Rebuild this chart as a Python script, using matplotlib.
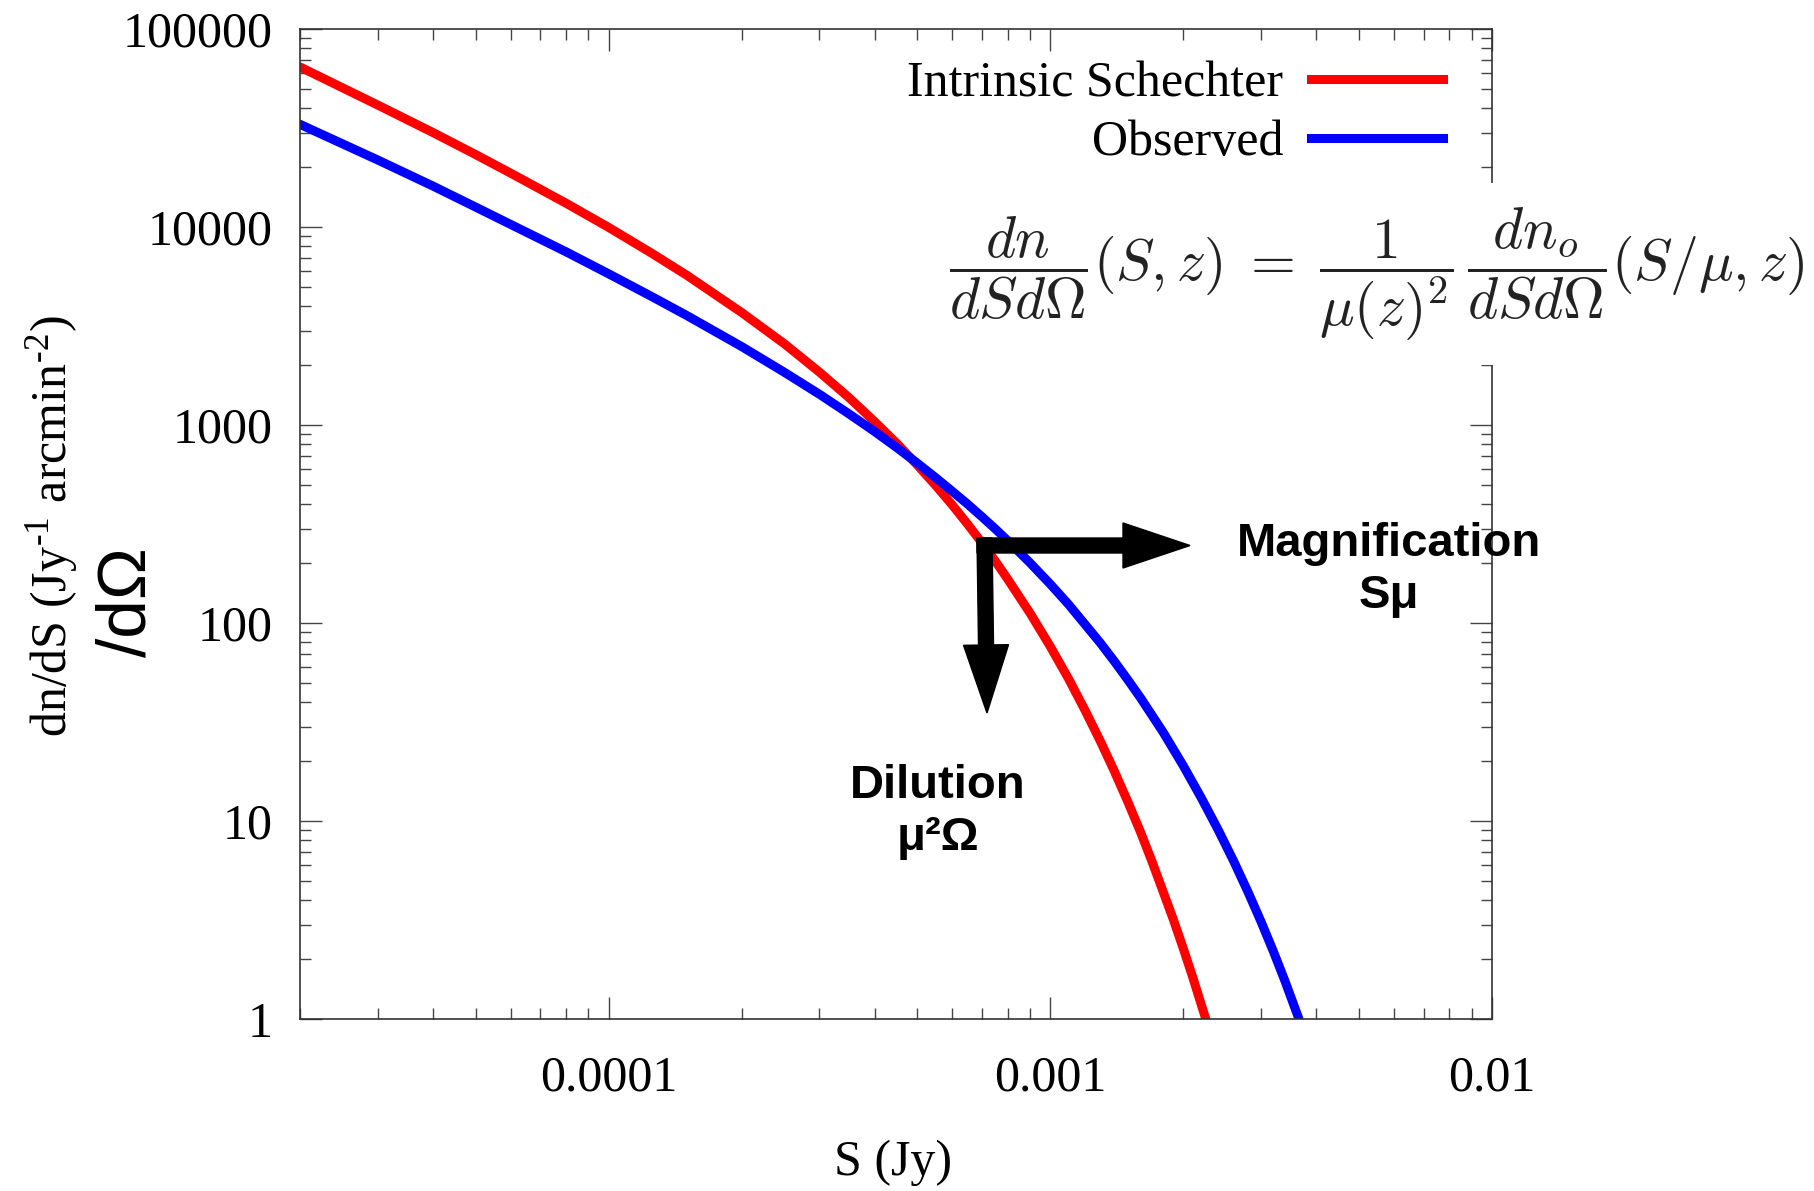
import matplotlib
matplotlib.use("Agg")
from matplotlib import pyplot as plt
from matplotlib.patches import FancyArrow
from matplotlib.ticker import FuncFormatter, LogLocator

plt.rcParams['font.family'] = ['Liberation Serif', 'DejaVu Serif']
plt.rcParams['mathtext.fontset'] = 'stix'

# flux density S (Jy) and dn/dS (Jy^-1 arcmin^-2)
s_intrinsic = [2e-5, 3e-5, 4e-5, 5e-5, 6e-5, 8e-5, 1e-4, 1.25e-4, 1.5e-4, 2e-4,
               2.5e-4, 3e-4, 3.5e-4, 4e-4, 4.5e-4, 5e-4, 5.5e-4, 6e-4, 6.5e-4,
               7e-4, 7.5e-4, 8e-4, 9e-4, 1e-3, 1.1e-3, 1.2e-3, 1.3e-3, 1.4e-3,
               1.5e-3, 1.6e-3, 1.7e-3, 1.8e-3, 1.9e-3, 2e-3, 2.1e-3, 2.3e-3]
n_intrinsic = [64300, 41300, 30000, 23200, 18700, 13200, 9950, 7380, 5720, 3700,
               2570, 1850, 1375, 1040, 804, 627, 495, 394, 315,
               254, 206, 167, 112, 76, 52.2, 36, 25.1, 17.6,
               12.4, 8.8, 6.22, 4.4, 3.17, 2.27, 1.63, 0.85]

s_observed = [2e-5, 3e-5, 4e-5, 5e-5, 6e-5, 8e-5, 1e-4, 1.25e-4, 1.5e-4, 2e-4,
              2.5e-4, 3e-4, 3.5e-4, 4e-4, 4.5e-4, 5e-4, 5.5e-4, 6e-4, 6.5e-4,
              7e-4, 7.5e-4, 8e-4, 9e-4, 1e-3, 1.1e-3, 1.2e-3, 1.3e-3, 1.4e-3,
              1.5e-3, 1.6e-3, 1.8e-3, 2e-3, 2.2e-3, 2.4e-3, 2.6e-3, 2.8e-3,
              3e-3, 3.2e-3, 3.4e-3, 3.8e-3]
n_observed = [33000, 21800, 16100, 12600, 10300, 7500, 5800, 4460, 3580, 2490,
              1845, 1430, 1138, 927, 766, 641, 542, 462, 398,
              344, 299, 261, 201, 157, 124, 98, 78.9, 63.5,
              51.4, 41.9, 28.1, 19.0, 13.0, 9.0, 6.28, 4.4,
              3.10, 2.19, 1.55, 0.79]

x_ticks = [1e-4, 1e-3, 1e-2]
y_ticks = [1, 10, 100, 1000, 10000, 100000]

W, H = 1814, 1191
fig = plt.figure(figsize=(W / 100, H / 100), dpi=100)
ax = fig.add_axes([300 / W, (H - 1019) / H, (1492 - 300) / W, (1019 - 29) / H])

ax.plot(s_intrinsic, n_intrinsic, color='#ff0000', lw=6.5, label='Intrinsic Schechter')
ax.plot(s_observed, n_observed, color='#0000ff', lw=6.5, label='Observed')

ax.set_xscale('log')
ax.set_yscale('log')
ax.set_xlim(2e-5, 1e-2)
ax.set_ylim(1, 1e5)
ax.set_xticks(x_ticks)
ax.set_yticks(y_ticks)
ax.xaxis.set_minor_locator(LogLocator(subs=range(2, 10)))
ax.yaxis.set_minor_locator(LogLocator(subs=range(2, 10)))
fmt = FuncFormatter(lambda v, p: '%g' % v)
ax.xaxis.set_major_formatter(fmt)
ax.yaxis.set_major_formatter(fmt)
ax.tick_params(which='both', direction='in', top=True, right=True,
               color='#444444', width=1.0, labelsize=36)
ax.tick_params(which='major', length=16)
ax.tick_params(which='minor', length=8)
ax.tick_params(axis='x', which='major', pad=26)
ax.tick_params(axis='y', which='major', pad=20)
for sp in ax.spines.values():
    sp.set_color('#333333')
    sp.set_linewidth(1.2)

ax.legend(loc='upper right', bbox_to_anchor=(1443 / W, (H - 61) / H),
          bbox_transform=fig.transFigure, frameon=False, fontsize=36,
          markerfirst=False, handlelength=2.65, handletextpad=0.55,
          labelspacing=0.24, borderpad=0, borderaxespad=0)

# axis titles
fig.text(893 / W, (H - 1163) / H, 'S (Jy)', fontsize=36, ha='center', va='center')
fig.text(52 / W, (H - 526) / H,
         'dn/dS (Jy$^{\\mathregular{\u20101}}$ arcmin$^{\\mathregular{\u20102}}$)',
         fontsize=36, rotation=90, ha='center', va='center')
fig.text(127 / W, (H - 602) / H, '/dΩ', fontsize=50, rotation=90,
         ha='center', va='center', family=['Liberation Sans', 'DejaVu Sans'])

# lensing relation
fig.text(1377 / W, (H - 274) / H,
         r'$\dfrac{dn}{dSd\Omega}(S,z) \;=\; \dfrac{1}{\mu(z)^2}\,\dfrac{dn_o}{dSd\Omega}(S/\mu,z)$',
         fontsize=41.5, ha='center', va='center', math_fontfamily='cm',
         color='#222222',
         bbox=dict(facecolor='white', edgecolor='none', pad=16))

# magnification / dilution arrows
tr = fig.dpi_scale_trans
fig.add_artist(FancyArrow(9.77, (H - 545.5) / 100, 2.13, 0, width=0.15,
                          head_width=0.45, head_length=0.67,
                          length_includes_head=True, color='black', transform=tr))
fig.add_artist(FancyArrow(9.845, (H - 538) / 100, 0.025, -1.75, width=0.15,
                          head_width=0.45, head_length=0.68,
                          length_includes_head=True, color='black', transform=tr))

bold = dict(fontsize=34, fontweight='bold', ha='center', va='center',
            family=['Liberation Sans', 'DejaVu Sans'], linespacing=1.25)
fig.text(1389 / W, (H - 570) / H, 'Magnification\nSμ', **bold)
fig.text(938 / W, (H - 812) / H, 'Dilution\nμ²Ω', **bold)

plt.savefig('out.png', dpi=100)
